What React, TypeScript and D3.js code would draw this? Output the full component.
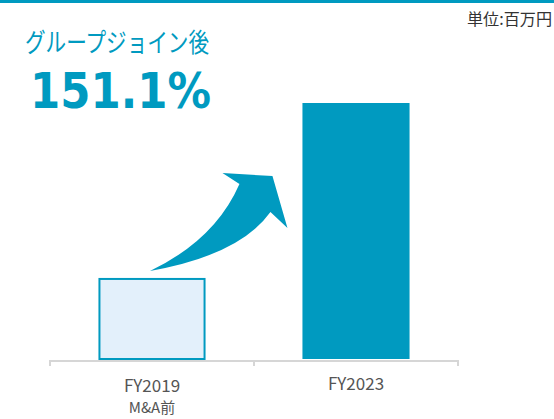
import React, { useEffect, useRef } from 'react';
import * as d3 from 'd3';

// chart data
const categories = ['FY2019', 'FY2023'];
const subLabels = ['M&A前', ''];
const values = [31, 100];
const unitLabel = '単位:百万円';
const headline = 'グループジョイン後';
const growthLabel = '151.1%';

const TEAL = '#009ac0';

const App = () => {
  const ref = useRef<SVGSVGElement>(null);

  useEffect(() => {
    const width = 554;
    const height = 419;
    const margin = { left: 50, right: 96, top: 103, bottom: 60 };

    const svg = d3.select(ref.current);
    svg.selectAll('*').remove();

    const x = d3.scaleBand<string>()
      .domain(categories)
      .range([margin.left, width - margin.right])
      .paddingInner(0.475)
      .paddingOuter(0.2375);

    const baseY = height - margin.bottom;
    const y = d3.scaleLinear()
      .domain([0, d3.max(values) as number])
      .range([baseY - 1, margin.top]);

    // top rule
    svg.append('rect')
      .attr('x', 0).attr('y', 0)
      .attr('width', width).attr('height', 3)
      .attr('fill', TEAL);

    svg.append('text')
      .attr('x', 552).attr('y', 25)
      .attr('text-anchor', 'end')
      .attr('font-family', '"Noto Sans CJK JP", sans-serif')
      .attr('font-size', 16)
      .attr('textLength', 85)
      .attr('lengthAdjust', 'spacingAndGlyphs')
      .attr('fill', '#333')
      .text(unitLabel);

    svg.append('text')
      .attr('x', 25).attr('y', 52)
      .attr('font-family', '"Noto Sans CJK JP", sans-serif')
      .attr('font-size', 26)
      .attr('textLength', 184)
      .attr('lengthAdjust', 'spacingAndGlyphs')
      .attr('fill', TEAL)
      .text(headline);

    svg.append('text')
      .attr('x', 30).attr('y', 108)
      .attr('font-family', '"DejaVu Sans", sans-serif')
      .attr('font-weight', 'bold')
      .attr('font-size', 49)
      .attr('textLength', 181)
      .attr('lengthAdjust', 'spacingAndGlyphs')
      .attr('fill', TEAL)
      .text(growthLabel);

    // bars
    svg.selectAll('rect.bar')
      .data(values)
      .enter()
      .append('rect')
      .attr('class', 'bar')
      .attr('x', (d, i) => (x(categories[i]) as number) + (i === 0 ? 1 : 0))
      .attr('y', d => y(d))
      .attr('width', (d, i) => x.bandwidth() - (i === 0 ? 2 : 0))
      .attr('height', d => baseY - y(d))
      .attr('fill', (d, i) => (i === 0 ? '#e3f0fb' : TEAL))
      .attr('stroke', (d, i) => (i === 0 ? TEAL : 'none'))
      .attr('stroke-width', 2);

    // axis line + ticks at band boundaries
    const step = x.step();
    const bounds = [margin.left, ...categories.map(c => (x(c) as number) + x.bandwidth() / 2 + step / 2)];
    svg.append('line')
      .attr('x1', margin.left).attr('x2', width - margin.right)
      .attr('y1', baseY + 2).attr('y2', baseY + 2)
      .attr('stroke', '#d6d6d6').attr('stroke-width', 2);
    svg.selectAll('line.tick')
      .data(bounds)
      .enter()
      .append('line')
      .attr('class', 'tick')
      .attr('x1', d => d).attr('x2', d => d)
      .attr('y1', baseY + 1).attr('y2', baseY + 7)
      .attr('stroke', '#d6d6d6').attr('stroke-width', 2);

    // category labels
    categories.forEach((c, i) => {
      const cx = (x(c) as number) + x.bandwidth() / 2;
      const hasSub = subLabels[i] !== '';
      svg.append('text')
        .attr('x', cx).attr('y', hasSub ? baseY + 33 : baseY + 31)
        .attr('text-anchor', 'middle')
        .attr('font-family', '"Noto Sans CJK JP", sans-serif')
        .attr('font-size', 17)
        .attr('fill', '#555')
        .text(c);
      if (hasSub) {
        svg.append('text')
          .attr('x', cx).attr('y', baseY + 54)
          .attr('text-anchor', 'middle')
          .attr('font-family', '"Noto Sans CJK JP", sans-serif')
          .attr('font-size', 15)
          .attr('fill', '#555')
          .text(subLabels[i]);
      }
    });

    // curved arrow from first bar toward second bar
    const tx = (x(categories[0]) as number) + x.bandwidth() / 2 - 2;
    const ty = y(values[0]) - 8;
    const hx = x(categories[1]) as number;
    const hy = y(values[1]) + 73;
    const arrow = d3.path();
    arrow.moveTo(tx, ty);
    arrow.quadraticCurveTo(tx + 65, ty - 31, hx - 63, hy + 8);
    arrow.lineTo(hx - 80, hy - 3);
    arrow.lineTo(hx - 30, hy);
    arrow.lineTo(hx - 15, hy + 52);
    arrow.lineTo(hx - 32, hy + 36);
    arrow.quadraticCurveTo(tx + 90, ty - 16, tx, ty);
    arrow.closePath();
    svg.append('path')
      .attr('d', arrow.toString())
      .attr('fill', TEAL);
  }, []);

  return (
    <svg
      ref={ref}
      width={554}
      height={419}
      style={{ position: 'absolute', left: 0, top: 0, background: '#fff' }}
    />
  );
};

export default App;
